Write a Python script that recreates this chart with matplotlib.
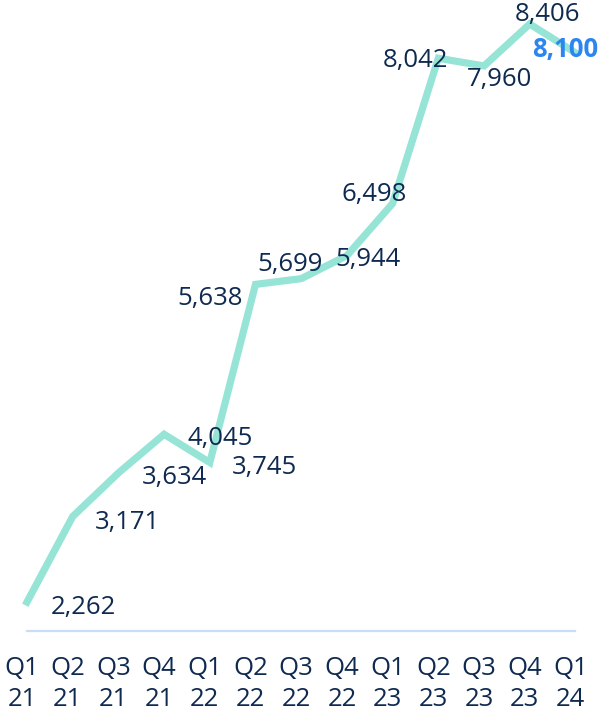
"""
Quarterly line chart with data labels
"""

import matplotlib.pyplot as plt
from matplotlib.transforms import ScaledTranslation

quarters = ["Q1\n21", "Q2\n21", "Q3\n21", "Q4\n21", "Q1\n22", "Q2\n22", "Q3\n22",
            "Q4\n22", "Q1\n23", "Q2\n23", "Q3\n23", "Q4\n23", "Q1\n24"]
values = [2262, 3171, 3634, 4045, 3745, 5638, 5699, 5944, 6498, 8042, 7960, 8406, 8100]

# label offsets in pixels (dx, dy) from each point, as placed in the original slide
label_offsets = [(56, -5), (55, -6), (56, -5), (56, -4), (55, -5), (-45, -14), (-11, 14),
                 (21, -4), (-18, 9), (-23, -2), (16, -14), (18, 9), (-10, 3)]

LINE_COLOR = '#95e4d6'
TEXT_COLOR = '#0f2a50'
HIGHLIGHT = '#2d86f0'

plt.rcParams['font.family'] = ['Open Sans', 'DejaVu Sans']

W, H = 601, 712
fig = plt.figure(figsize=(W / 100, H / 100), dpi=100)
left, right = 27, 575.4
bottom_px = 631
ax = fig.add_axes([left / W, (H - bottom_px) / H, (right - left) / W, bottom_px / H])

x = list(range(len(values)))
ax.plot(x, values, color=LINE_COLOR, lw=5.2, solid_joinstyle='miter', clip_on=False, zorder=2)
ax.set_xlim(0, len(values) - 1)
ax.set_ylim(1954, 8661)

for i, (v, (dx, dy)) in enumerate(zip(values, label_offsets)):
    last = i == len(values) - 1
    ax.annotate("{:,}".format(v), (i, v), xytext=(dx, dy), textcoords='offset pixels',
                ha='center', va='center', fontsize=18.5,
                color=HIGHLIGHT if last else TEXT_COLOR,
                fontweight='bold' if last else 'normal', zorder=3)

for side in ['top', 'left', 'right']:
    ax.spines[side].set_visible(False)
ax.spines['bottom'].set_color('#c8ddf6')
ax.spines['bottom'].set_linewidth(1.6)
ax.set_yticks([])
ax.set_xticks(x)
ax.set_xticklabels(quarters, fontsize=18.5, color=TEXT_COLOR, linespacing=1.3)
ax.tick_params(axis='x', length=0, pad=18)
shift = ScaledTranslation(-5 / 100, 0, fig.dpi_scale_trans)
for lbl in ax.get_xticklabels():
    lbl.set_transform(lbl.get_transform() + shift)

plt.savefig('out.png', dpi=100)
